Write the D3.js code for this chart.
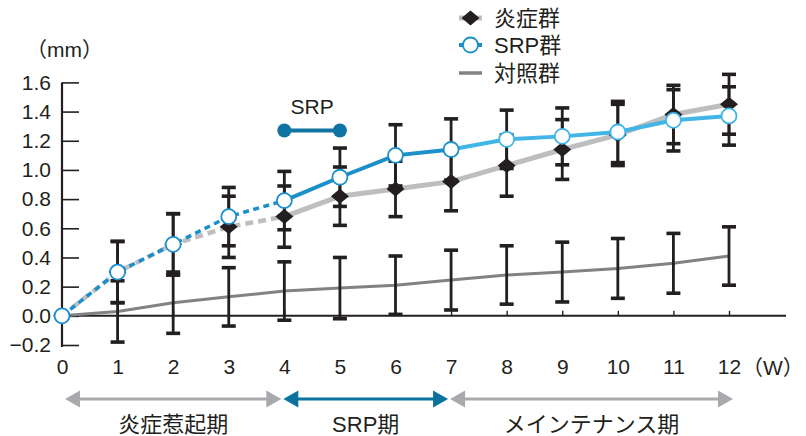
<!DOCTYPE html>
<html>
<head>
<meta charset="utf-8">
<script src="https://cdn.jsdelivr.net/npm/d3@7"></script>
<style>
  html, body { margin: 0; padding: 0; background: #fff; }
  svg text { font-family: "Liberation Sans", Arial, "Noto Sans CJK JP", sans-serif; fill: #231f20; }
</style>
</head>
<body>
<svg id="chart" width="806" height="436"></svg>
<script>
// Weeks after the start of the experiment
const weeks = [0, 1, 2, 3, 4, 5, 6, 7, 8, 9, 10, 11, 12];

// 炎症群 (inflammation group): mean and SD, mm
const inflamMean = [0, 0.30, 0.49, 0.61, 0.68, 0.82, 0.87, 0.92, 1.03, 1.14, 1.24, 1.38, 1.45];
const inflamSD   = [0, 0.21, 0.21, 0.21, 0.21, 0.20, 0.19, 0.20, 0.21, 0.205, 0.21, 0.20, 0.205];

// SRP群 (SRP group)
const srpMean = [0, 0.30, 0.49, 0.68, 0.79, 0.95, 1.10, 1.14, 1.21, 1.23, 1.26, 1.34, 1.37];
const srpSD   = [0, 0.21, 0.21, 0.20, 0.20, 0.20, 0.21, 0.21, 0.20, 0.195, 0.21, 0.21, 0.20];

// 対照群 (control group)
const ctrlMean = [0, 0.03, 0.09, 0.13, 0.17, 0.19, 0.21, 0.245, 0.28, 0.30, 0.325, 0.36, 0.41];
const ctrlSD   = [0, 0.21, 0.21, 0.20, 0.20, 0.21, 0.20, 0.205, 0.20, 0.205, 0.205, 0.205, 0.20];

// Y axis ticks
const yTicks = [-0.2, 0, 0.2, 0.4, 0.6, 0.8, 1.0, 1.2, 1.4, 1.6];

// SRP treatment bar (weeks 4–5)
const srpTreatment = { from: 4, to: 5, level: 1.27, label: "SRP" };

// Study phases along the time axis
const phases = [
  { label: "炎症惹起期", from: 0, to: 4, kind: "grey" },
  { label: "SRP期", from: 4, to: 7, kind: "blue" },
  { label: "メインテナンス期", from: 7, to: 12, kind: "grey" }
];

// Legend entries
const legendItems = [
  { label: "炎症群", kind: "inflam" },
  { label: "SRP群", kind: "srp" },
  { label: "対照群", kind: "ctrl" }
];

const C = {
  ink: "#231f20",
  inflamLine: "#bcbec0",
  ctrlLine: "#808285",
  srpDark: "#1a8fca",
  srpLight: "#40b5e6",
  srpMark: "#0f74a2",
  arrowGrey: "#a7a9ac",
  arrowBlue: "#0b72a0"
};

const svg = d3.select("#chart");
const x = d3.scaleLinear().domain([0, 12]).range([62, 729]);
const y = d3.scaleLinear().domain([-0.2, 1.6]).range([345, 82.4]);

// ---- axes ----
const yAxis = svg.append("g")
  .attr("transform", `translate(${x(0)},0)`)
  .call(d3.axisLeft(y).tickValues(yTicks).tickSizeInner(-17).tickSizeOuter(0)
    .tickPadding(11).tickFormat(d3.format(".1f")));
yAxis.select(".domain").attr("stroke", C.ink).attr("stroke-width", 2.2)
  .attr("d", `M0,${y(1.6)}V${y(-0.2) + 2}`);
yAxis.selectAll(".tick line").attr("stroke", C.ink).attr("stroke-width", 1.6);
yAxis.selectAll(".tick text").attr("font-size", 21).style("fill", C.ink);

const xAxis = svg.append("g")
  .attr("transform", `translate(0,${y(0)})`)
  .call(d3.axisBottom(x).tickValues(weeks).tickSizeInner(-5).tickSizeOuter(0)
    .tickPadding(43).tickFormat(d3.format("d")));
xAxis.select(".domain").attr("stroke", C.ink).attr("stroke-width", 2)
  .attr("d", `M${x(0)},0H786`);
xAxis.selectAll(".tick line").attr("stroke", C.ink).attr("stroke-width", 1.4);
xAxis.selectAll(".tick text").attr("font-size", 21).style("fill", C.ink);

svg.append("text").attr("x", 742).attr("y", 374.5).attr("font-size", 21).text("（W）");
svg.append("text").attr("x", 26).attr("y", 57).attr("font-size", 21).text("（mm）");

// ---- lines ----
const pts = (means) => weeks.map((w, i) => [w, means[i]]);
const line = d3.line().x(d => x(d[0])).y(d => y(d[1]));

// control
svg.append("path").datum(pts(ctrlMean)).attr("d", line)
  .attr("fill", "none").attr("stroke", C.ctrlLine).attr("stroke-width", 3);

// inflammation: dashed before SRP (weeks 0–4), solid afterwards
const inflamPts = pts(inflamMean);
svg.append("path").datum(inflamPts.filter(d => d[0] <= 4)).attr("d", line)
  .attr("fill", "none").attr("stroke", C.inflamLine).attr("stroke-width", 4.5)
  .attr("stroke-dasharray", "8,5");
svg.append("path").datum(inflamPts.filter(d => d[0] >= 4)).attr("d", line)
  .attr("fill", "none").attr("stroke", C.inflamLine).attr("stroke-width", 5);

// SRP group: dashed (0–4), dark blue (4–7), light blue (7–12)
const srpPts = pts(srpMean);
svg.append("path").datum(srpPts.filter(d => d[0] <= 4)).attr("d", line)
  .attr("fill", "none").attr("stroke", C.srpDark).attr("stroke-width", 3.5)
  .attr("stroke-dasharray", "6,4.5");
svg.append("path").datum(srpPts.filter(d => d[0] >= 4 && d[0] <= 7)).attr("d", line)
  .attr("fill", "none").attr("stroke", C.srpDark).attr("stroke-width", 4);
svg.append("path").datum(srpPts.filter(d => d[0] >= 7)).attr("d", line)
  .attr("fill", "none").attr("stroke", C.srpLight).attr("stroke-width", 4);

// ---- error bars ----
function errorBars(means, sds) {
  const g = svg.append("g");
  weeks.forEach((w, i) => {
    if (!sds[i]) return;
    const lo = y(means[i] - sds[i]), hi = y(means[i] + sds[i]), cx = x(w);
    g.append("line").attr("x1", cx).attr("x2", cx).attr("y1", hi).attr("y2", lo)
      .attr("stroke", C.ink).attr("stroke-width", 2.8);
    [hi, lo].forEach(cy => g.append("line")
      .attr("x1", cx - 7).attr("x2", cx + 7).attr("y1", cy).attr("y2", cy)
      .attr("stroke", C.ink).attr("stroke-width", 3.6));
  });
}
errorBars(ctrlMean, ctrlSD);
errorBars(inflamMean, inflamSD);
errorBars(srpMean, srpSD);

// ---- markers ----
const diamond = "M-9,0L0,-7.5L9,0L0,7.5Z";
svg.append("g").selectAll("path").data(inflamPts).join("path")
  .attr("d", diamond).attr("transform", d => `translate(${x(d[0])},${y(d[1])})`)
  .attr("fill", C.ink);
svg.append("g").selectAll("circle").data(srpPts).join("circle")
  .attr("cx", d => x(d[0])).attr("cy", d => y(d[1])).attr("r", 7.5)
  .attr("fill", "#fff").attr("stroke", d => d[0] >= 8 ? C.srpLight : C.srpDark)
  .attr("stroke-width", 1.8);

// ---- SRP treatment marker ----
const tr = svg.append("g");
tr.append("line").attr("x1", x(srpTreatment.from)).attr("x2", x(srpTreatment.to))
  .attr("y1", y(srpTreatment.level)).attr("y2", y(srpTreatment.level))
  .attr("stroke", C.srpMark).attr("stroke-width", 4);
[srpTreatment.from, srpTreatment.to].forEach(w => tr.append("circle")
  .attr("cx", x(w)).attr("cy", y(srpTreatment.level)).attr("r", 7).attr("fill", C.srpMark));
tr.append("text").attr("x", (x(srpTreatment.from) + x(srpTreatment.to)) / 2)
  .attr("y", y(srpTreatment.level) - 17).attr("text-anchor", "middle")
  .attr("font-size", 21).text(srpTreatment.label);

// ---- legend ----
const lg = svg.append("g");
const legendY = [18, 45, 73];
legendItems.forEach((it, i) => {
  const cy = legendY[i];
  if (it.kind === "inflam") {
    lg.append("line").attr("x1", 459).attr("x2", 482).attr("y1", cy).attr("y2", cy)
      .attr("stroke", C.inflamLine).attr("stroke-width", 5);
    lg.append("path").attr("d", diamond).attr("transform", `translate(470.5,${cy})`).attr("fill", C.ink);
  } else if (it.kind === "srp") {
    lg.append("line").attr("x1", 459).attr("x2", 482).attr("y1", cy).attr("y2", cy)
      .attr("stroke", C.srpDark).attr("stroke-width", 4);
    lg.append("circle").attr("cx", 470.5).attr("cy", cy).attr("r", 7.5)
      .attr("fill", "#fff").attr("stroke", C.srpDark).attr("stroke-width", 1.8);
  } else {
    lg.append("line").attr("x1", 459).attr("x2", 482).attr("y1", cy).attr("y2", cy)
      .attr("stroke", C.ctrlLine).attr("stroke-width", 3.5);
  }
  lg.append("text").attr("x", 494).attr("y", cy + 8).attr("font-size", 22).text(it.label);
});

// ---- phase arrows ----
const arrowY = 399;
const pg = svg.append("g");
phases.forEach((p, i) => {
  const col = p.kind === "blue" ? C.arrowBlue : C.arrowGrey;
  const x1 = x(p.from) + (i === 0 ? 3 : -1);
  const x2 = x(p.to) + (i === phases.length - 1 ? 4 : -3);
  const head = 15, hh = 8.5;
  pg.append("line").attr("x1", x1 + head - 2).attr("x2", x2 - head + 2)
    .attr("y1", arrowY).attr("y2", arrowY).attr("stroke", col).attr("stroke-width", 3);
  pg.append("path").attr("d", `M${x1},${arrowY}L${x1 + head},${arrowY - hh}L${x1 + head},${arrowY + hh}Z`).attr("fill", col);
  pg.append("path").attr("d", `M${x2},${arrowY}L${x2 - head},${arrowY - hh}L${x2 - head},${arrowY + hh}Z`).attr("fill", col);
  pg.append("text").attr("x", (x1 + x2) / 2).attr("y", 432).attr("text-anchor", "middle")
    .attr("font-size", 22).text(p.label);
});
</script>
</body>
</html>
